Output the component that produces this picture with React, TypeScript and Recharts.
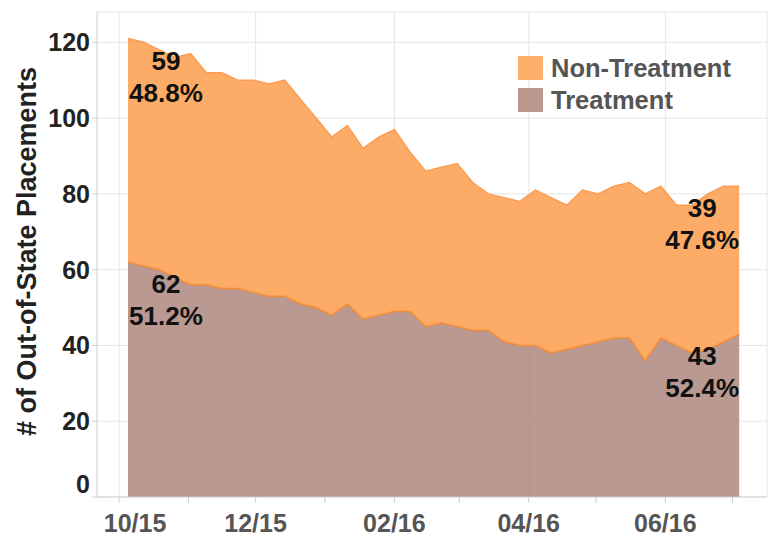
import { AreaChart, Area, XAxis, YAxis, CartesianGrid, LabelList } from 'recharts'

// weekly snapshots, Oct 2015 - Jul 2016
const weeks = [
  '2015-10-05', '2015-10-12', '2015-10-19', '2015-10-26', '2015-11-02', '2015-11-09', '2015-11-16', '2015-11-23',
  '2015-11-30', '2015-12-07', '2015-12-14', '2015-12-21', '2015-12-28', '2016-01-04', '2016-01-11', '2016-01-18',
  '2016-01-25', '2016-02-01', '2016-02-08', '2016-02-15', '2016-02-22', '2016-02-29', '2016-03-07', '2016-03-14',
  '2016-03-21', '2016-03-28', '2016-04-04', '2016-04-11', '2016-04-18', '2016-04-25', '2016-05-02', '2016-05-09',
  '2016-05-16', '2016-05-23', '2016-05-30', '2016-06-06', '2016-06-13', '2016-06-20', '2016-06-27', '2016-07-04',
]

const treatment = [
  62, 61, 60, 58, 56, 56, 55, 55, 54, 53, 53, 51, 50, 48, 51, 47, 48, 49, 49, 45,
  46, 45, 44, 44, 41, 40, 40, 38, 39, 40, 41, 42, 42, 36, 42, 40, 38, 39, 41, 43,
]

const nonTreatment = [
  59, 59, 58, 58, 61, 56, 57, 55, 56, 56, 57, 54, 50, 47, 47, 45, 47, 48, 42, 41,
  41, 43, 39, 36, 38, 38, 41, 41, 38, 41, 39, 40, 41, 44, 40, 37, 39, 41, 41, 39,
]

const monthTicks = [
  '2015-10-01', '2015-11-01', '2015-12-01', '2016-01-01', '2016-02-01',
  '2016-03-01', '2016-04-01', '2016-05-01', '2016-06-01', '2016-07-01',
]
const monthLabels = ['10/15', '', '12/15', '', '02/16', '', '04/16', '', '06/16', '']
const majorMonths = ['2015-10-01', '2015-12-01', '2016-02-01', '2016-04-01', '2016-06-01']

const xDomain = [Date.parse('2015-09-21T04:00:00Z'), Date.parse('2016-07-16T10:00:00Z')]
const yTicks = [0, 20, 40, 60, 80, 100, 120]
const yMax = 128

const seriesNames = ['Non-Treatment', 'Treatment']

const ORANGE = '#fc9d4c'
const BROWN = '#a88077'
const FONT = '"Liberation Sans", Arial, sans-serif'

const data = weeks.map((w, i) => ({
  t: Date.parse(w),
  treatment: treatment[i],
  nonTreatment: nonTreatment[i],
}))

const tickTs = monthTicks.map(d => Date.parse(d))

const YTick = (props: any) => {
  const { x, y, payload } = props
  // Tableau nudges the bottom label up so it stays inside the pane
  const shift = payload.value === 0 ? -13 : 0
  return (
    <text x={x} y={y + shift} dy="0.355em" textAnchor="end" fontFamily={FONT} fontSize={25} fontWeight="bold" fill="#222">
      {payload.value}
    </text>
  )
}

const XTick = (props: any) => {
  const { x, y, payload } = props
  const i = tickTs.indexOf(payload.value)
  const label = monthLabels[i] ?? ''
  if (!label) return null
  // first label is pushed right to stay clear of the pane edge
  const shift = i === 0 ? 16 : 0
  return (
    <text x={x + shift} y={y} dy="0.71em" textAnchor="middle" fontFamily={FONT} fontSize={25} fontWeight="bold" fill="#555">
      {label}
    </text>
  )
}

const makeLabel = (values: number[], other: number[]) => (props: any) => {
  const { x, y, index } = props
  const last = values.length - 1
  if (index !== 0 && index !== last) return null
  const pct = ((values[index] / (values[index] + other[index])) * 100).toFixed(1) + '%'
  const cx = index === 0 ? x + 38 : x - 37
  const style = { fontFamily: FONT, fontSize: 26, fontWeight: 'bold' as const, fill: '#111' }
  return (
    <g>
      <text x={cx} y={y + 22} textAnchor="middle" dominantBaseline="central" style={style}>{values[index]}</text>
      <text x={cx} y={y + 54} textAnchor="middle" dominantBaseline="central" style={style}>{pct}</text>
    </g>
  )
}

export default function App() {
  const legendItems = [
    { name: seriesNames[0], color: '#fdae6b' },
    { name: seriesNames[1], color: '#b9978f' },
  ]

  return (
    <div style={{ position: 'relative', width: 778, height: 536 }}>
      <style>{'body{margin:0}'}</style>
      <AreaChart width={778} height={536} data={data} margin={{ top: 12, right: 11, bottom: 0, left: 0 }}>
        <CartesianGrid
          stroke="#e6e6e6"
          horizontalValues={[...yTicks, yMax]}
          verticalValues={[...majorMonths.map(d => Date.parse(d)), xDomain[1]]}
        />
        <XAxis
          dataKey="t"
          type="number"
          scale="time"
          domain={xDomain}
          ticks={tickTs}
          height={39}
          tickSize={6}
          tickMargin={11}
          stroke="#cfcfcf"
          tick={<XTick />}
          interval={0}
          allowDataOverflow
        />
        <YAxis
          type="number"
          domain={[0, yMax]}
          ticks={yTicks}
          width={97}
          tickSize={5}
          tickMargin={2}
          stroke="#cfcfcf"
          tick={<YTick />}
          interval={0}
          label={(p: any) => {
            const vb = p.viewBox
            const cx = 27
            const cy = vb.y + vb.height / 2 - 3
            return (
              <text x={cx} y={cy} transform={`rotate(-90 ${cx} ${cy})`} textAnchor="middle" dominantBaseline="central"
                fontFamily={FONT} fontSize={27} fontWeight="bold" fill="#222">
                # of Out-of-State Placements
              </text>
            )
          }}
        />
        <Area
          type="linear"
          dataKey="treatment"
          name={seriesNames[1]}
          stackId="a"
          fill={BROWN}
          fillOpacity={0.8}
          stroke="#ee8a38"
          strokeWidth={2}
          isAnimationActive={false}
        >
          <LabelList dataKey="treatment" content={makeLabel(treatment, nonTreatment)} />
        </Area>
        <Area
          type="linear"
          dataKey="nonTreatment"
          name={seriesNames[0]}
          stackId="a"
          fill={ORANGE}
          fillOpacity={0.85}
          stroke="#fa9e55"
          strokeWidth={1.5}
          isAnimationActive={false}
        >
          <LabelList dataKey="nonTreatment" content={makeLabel(nonTreatment, treatment)} />
        </Area>
      </AreaChart>

      <div style={{ position: 'absolute', left: 518, top: 56, fontFamily: FONT }}>
        {legendItems.map(item => (
          <div key={item.name} style={{ display: 'flex', alignItems: 'center', height: 24, marginBottom: 8 }}>
            <div style={{ width: 25, height: 24, background: item.color, marginRight: 8 }} />
            <span style={{ fontSize: 25.5, fontWeight: 'bold', color: '#555', lineHeight: '24px' }}>{item.name}</span>
          </div>
        ))}
      </div>
    </div>
  )
}
